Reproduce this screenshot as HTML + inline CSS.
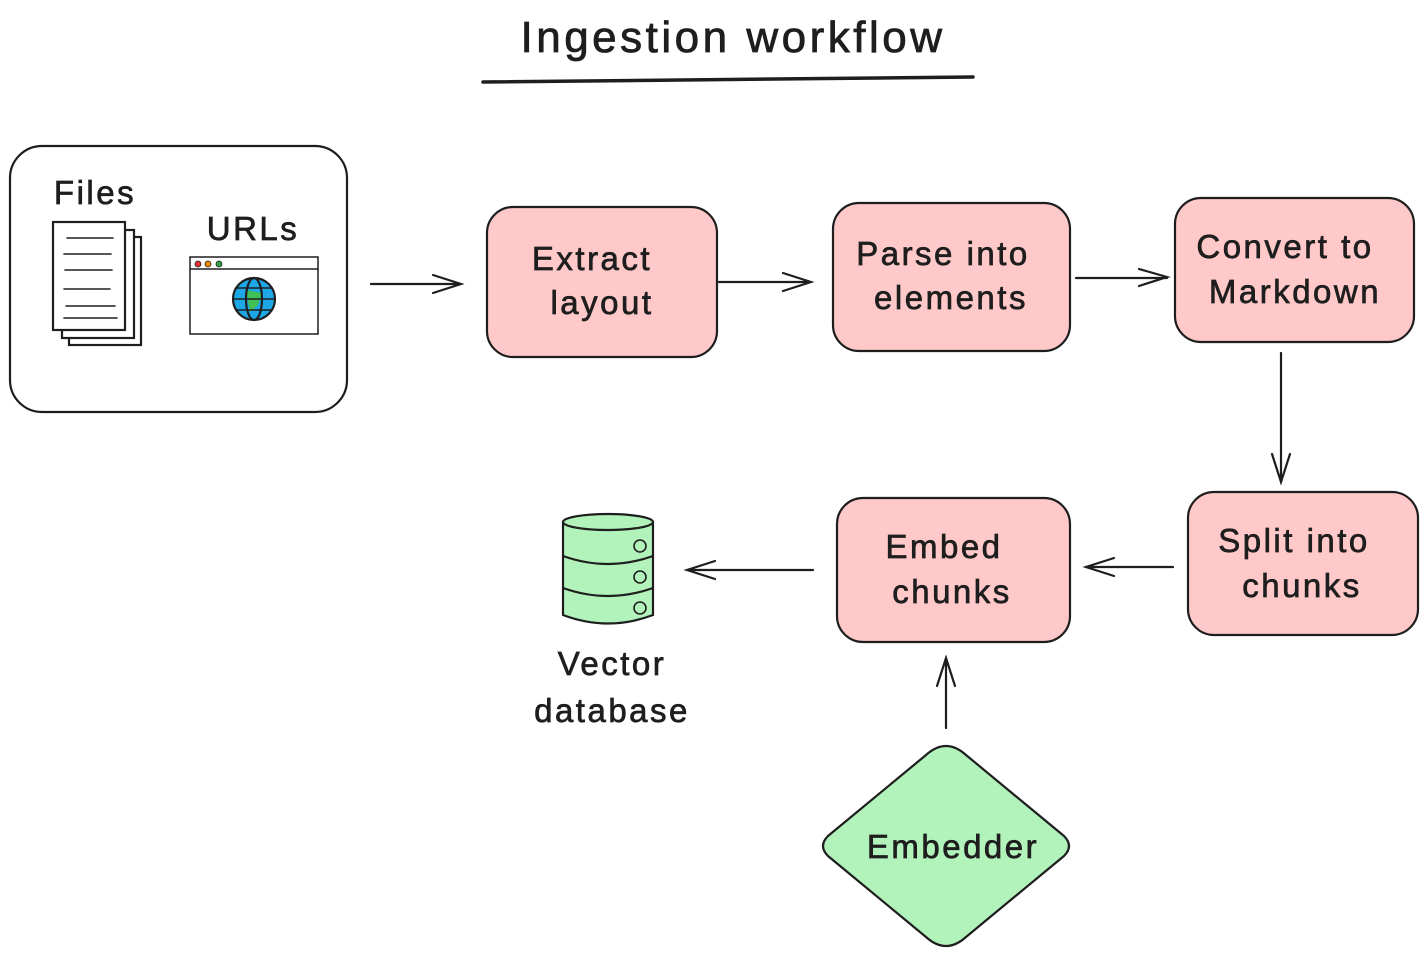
<!DOCTYPE html>
<html><head><meta charset="utf-8"><style>
html,body{margin:0;padding:0;background:#fff;}
text{font-family:"Liberation Sans",sans-serif;fill:#1e1e1e;}
.t{font-size:33px;letter-spacing:2.5px;stroke:#1e1e1e;stroke-width:0.7px;}
</style></head><body>
<svg width="1428" height="964" viewBox="0 0 1428 964" xmlns="http://www.w3.org/2000/svg">
<g stroke="#1e1e1e" stroke-width="2.2" fill="none" stroke-linecap="round">
<text x="733" y="52" font-size="44" letter-spacing="3.5" text-anchor="middle" stroke-width="0.8">Ingestion workflow</text>
<path d="M483 82 L973 77" stroke-width="3.5"/>

<rect x="10" y="146" width="337" height="266" rx="32" fill="#fff"/>
<text x="95" y="204" class="t" text-anchor="middle">Files</text>
<text x="253" y="240" class="t" text-anchor="middle">URLs</text>
<rect x="69" y="237" width="72" height="108" fill="#fff"/>
<rect x="62" y="230" width="72" height="108" fill="#fff"/>
<rect x="53" y="222" width="72" height="108" fill="#fff"/>
<path d="M67 238 H113 M64 254 H111 M65 270 H112 M64 289 H110 M66 306 H115 M64 318 H117" stroke-width="1.6"/>
<rect x="190" y="257" width="128" height="77" fill="#fff" stroke-width="1.5"/>
<path d="M190 269 H318" stroke-width="1.5"/>
<circle cx="198" cy="264" r="3" fill="#e03131" stroke-width="0.8"/>
<circle cx="208" cy="264" r="3" fill="#f08c00" stroke-width="0.8"/>
<circle cx="219" cy="264" r="3" fill="#2f9e44" stroke-width="0.8"/>
<circle cx="254" cy="299" r="21" fill="#1ea7e6"/>
<path d="M246 290 L262 293 L258 305 L250 312 L248 300 Z" fill="#40c057" stroke="none"/>
<ellipse cx="254" cy="299" rx="8" ry="21"/>
<path d="M233 299 H275 M237 288 H271 M237 310 H271" stroke-width="1.5"/>

<rect x="487" y="207" width="230" height="150" rx="26" fill="#ffc9c9"/>
<text x="592" y="270" class="t" text-anchor="middle">Extract</text>
<text x="602" y="314" class="t" text-anchor="middle">layout</text>

<rect x="833" y="203" width="237" height="148" rx="26" fill="#ffc9c9"/>
<text x="943" y="265" class="t" text-anchor="middle">Parse into</text>
<text x="951" y="309" class="t" text-anchor="middle">elements</text>

<rect x="1175" y="198" width="239" height="144" rx="26" fill="#ffc9c9"/>
<text x="1285" y="258" class="t" text-anchor="middle">Convert to</text>
<text x="1295" y="303" class="t" text-anchor="middle">Markdown</text>

<rect x="1188" y="492" width="230" height="143" rx="26" fill="#ffc9c9"/>
<text x="1294" y="552" class="t" text-anchor="middle">Split into</text>
<text x="1302" y="597" class="t" text-anchor="middle">chunks</text>

<rect x="837" y="498" width="233" height="144" rx="26" fill="#ffc9c9"/>
<text x="944" y="558" class="t" text-anchor="middle">Embed</text>
<text x="952" y="603" class="t" text-anchor="middle">chunks</text>

<path d="M946 746 Q956 746 966 755 L1064 836 Q1074 846 1064 856 L966 937 Q956 946 946 946 Q936 946 926 937 L828 856 Q818 846 828 836 L926 755 Q936 746 946 746 Z" fill="#b2f2bb"/>
<text x="953" y="858" class="t" text-anchor="middle">Embedder</text>

<path d="M563 522 V615 Q608 632 653 615 V522" fill="#b2f2bb"/>
<ellipse cx="608" cy="522" rx="45" ry="8" fill="#b2f2bb"/>
<path d="M563 556 Q608 572 653 556 M563 588 Q608 604 653 588" />
<circle cx="640" cy="546" r="6" stroke-width="1.6"/>
<circle cx="640" cy="577" r="6" stroke-width="1.6"/>
<circle cx="640" cy="608" r="6" stroke-width="1.6"/>
<text x="612" y="675" class="t" text-anchor="middle">Vector</text>
<text x="612" y="722" class="t" text-anchor="middle">database</text>

<path d="M371 284 H461 M433 275 L461 284 L433 293"/>
<path d="M719 282 H811 M783 273 L811 282 L783 291"/>
<path d="M1076 278 H1167 M1139 269 L1167 277 L1139 286"/>
<path d="M1281 353 V482 M1272 454 L1281 482 L1290 454"/>
<path d="M1173 567 H1086 M1114 558 L1086 567 L1114 576"/>
<path d="M813 570 H687 M715 561 L687 570 L715 579"/>
<path d="M946 728 V658 M937 686 L946 658 L955 686"/>
</g>
</svg>
</body></html>
